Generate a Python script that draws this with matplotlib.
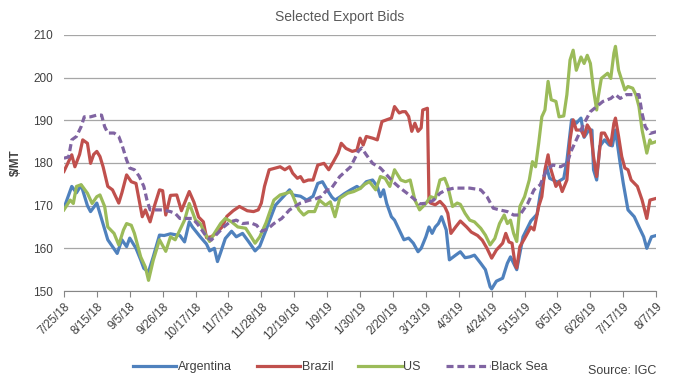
import matplotlib
matplotlib.use("Agg")
import matplotlib.pyplot as plt
import matplotlib.dates as mdates
import pandas as pd

plt.rcParams['font.family'] = ['Liberation Sans Narrow', 'Liberation Sans', 'DejaVu Sans']

## days since 7/25/18 and bids ($/MT)
arg_days = [0, 5, 8, 11, 15, 17, 21, 28, 34, 37, 40, 42, 46, 49, 51, 54, 57, 61, 64, 68, 74, 77, 80, 82, 87, 91,
            93, 96, 98, 100, 103, 107, 110, 114, 118, 122, 125, 129, 133, 135, 138, 144, 146, 151, 155, 159, 162,
            165, 168, 171, 173, 176, 179, 183, 187, 189, 193, 197, 200, 202, 204, 206, 209, 211, 214, 217, 220,
            223, 226, 228, 231, 233, 235, 237, 239, 241, 244, 246, 250, 253, 256, 259, 262, 266, 269, 272, 273,
            276, 280, 283, 285, 289, 293, 298, 302, 304, 308, 310, 315, 319, 321, 324, 327, 330, 332, 335, 337,
            338, 340, 342, 345, 348, 350, 352, 355, 357, 360, 364, 367, 370, 372, 375, 378]
arg_vals = [169.4, 174.5, 173, 174.8, 170, 168.6, 170.6, 162, 158.8, 162, 160.4, 162.4, 160, 157.3, 155.3, 154.5,
            158, 163.1, 163, 163.4, 163, 161.5, 166.2, 165, 162.7, 161, 159.4, 160, 156.9, 159, 162.3, 164, 162.7,
            163.5, 161.5, 159.4, 160.5, 164.3, 168.2, 170.1, 171.3, 173.7, 172.5, 172.2, 171.3, 172.2, 175.2,
            175.6, 173.7, 172, 171.3, 172, 172.8, 173.7, 174.5, 174, 175.6, 176, 174.5, 172.1, 173.7, 170.5, 167.4,
            166.6, 164.3, 162, 162.4, 161.2, 159.2, 160, 162.7, 165, 163.5, 165, 165.8, 167.4, 164.3, 157.3, 158.4,
            159.2, 157.8, 158, 158.4, 156.5, 155, 151, 150.5, 152.3, 153, 156.5, 158, 155, 162.7, 166.4, 168,
            172.7, 179.1, 176.4, 175.5, 176.4, 180.5, 190.1, 189.3, 190.5, 186, 187.7, 187.7, 178.4, 176, 183.9,
            185.4, 184.2, 184, 187.7, 179.9, 175.2, 169, 167.4, 165, 162.7, 160, 162.7, 163]

bra_days = [0, 5, 7, 10, 12, 15, 17, 19, 21, 23, 25, 28, 31, 35, 37, 40, 43, 46, 50, 52, 55, 58, 61, 63, 65, 68,
            72, 75, 80, 83, 86, 89, 91, 94, 97, 101, 104, 108, 112, 117, 121, 124, 126, 128, 131, 135, 138, 141,
            144, 146, 149, 151, 153, 156, 159, 162, 166, 169, 172, 175, 177, 180, 184, 187, 189, 191, 193, 197,
            200, 203, 206, 209, 211, 214, 216, 218, 220, 222, 224, 226, 228, 229, 232, 233, 234, 237, 240, 243,
            245, 247, 250, 253, 257, 260, 264, 267, 270, 273, 276, 280, 282, 284, 286, 288, 289, 291, 294, 298,
            300, 303, 305, 307, 309, 310, 314, 316, 318, 321, 323, 325, 327, 330, 332, 334, 336, 338, 340, 341,
            343, 345, 349, 351, 352, 354, 356, 358, 360, 362, 366, 369, 372, 374, 378]
bra_vals = [178, 181.9, 179.1, 182, 185.4, 184.6, 179.9, 182, 182.7, 181.5, 179.1, 174.5, 173.7, 170.6, 173,
            177.2, 175.6, 175.2, 167.4, 169, 166.2, 170.2, 173.7, 173.5, 167.8, 172.4, 172.5, 168.8, 173.3, 170.8,
            167.3, 166.2, 162.5, 162.7, 163.5, 165, 167.5, 168.8, 169.8, 168.8, 168.6, 169, 170.6, 174.5, 178.4,
            178.8, 179.1, 178.4, 179.1, 177.6, 176.4, 176.8, 175.6, 176, 176, 179.5, 179.9, 178.4, 180.3, 182.3,
            184.6, 183.4, 182.7, 183, 185.8, 184.2, 186.2, 185.8, 185.4, 189.7, 190.1, 190.5, 193.2, 191.7, 192,
            192, 190.9, 187.4, 189.3, 187.4, 188.2, 192.4, 192.8, 171, 170.6, 170.2, 171, 169.8, 168.2, 163.5,
            165, 166.4, 165, 163.8, 163, 161.9, 160, 157.7, 159.6, 161.2, 163.5, 161.5, 161.2, 156.1, 155.4,
            160.4, 162.3, 165, 164.3, 169.8, 172.1, 178.4, 181.9, 179.5, 174.5, 175.6, 173.3, 176, 185.4, 190.1,
            187.7, 187.7, 186.2, 188.9, 187.7, 181.5, 176.8, 180, 187, 187, 184.2, 189.3, 190.5, 186.2, 181.5,
            178.8, 178.4, 176, 174.5, 171.3, 167, 171.3, 171.7]

us_days = [0, 4, 6, 8, 11, 15, 18, 21, 23, 26, 28, 32, 35, 38, 40, 43, 45, 49, 52, 54, 57, 61, 65, 68, 71, 74,
           77, 80, 84, 87, 90, 93, 96, 100, 103, 107, 111, 116, 119, 122, 125, 129, 134, 138, 142, 145, 148, 150,
           153, 156, 160, 163, 167, 170, 173, 176, 181, 185, 189, 192, 195, 199, 202, 205, 208, 211, 215, 218,
           221, 224, 227, 231, 234, 237, 240, 243, 245, 248, 251, 253, 256, 259, 262, 266, 269, 272, 275, 278,
           281, 283, 285, 287, 289, 291, 294, 297, 299, 301, 303, 305, 307, 309, 311, 314, 316, 319, 321, 323,
           325, 327, 330, 332, 334, 336, 338, 340, 341, 343, 347, 349, 351, 352, 354, 356, 358, 360, 363, 365,
           367, 369, 372, 374, 375, 378]
us_vals = [169, 171.3, 170.5, 174.5, 174.9, 172.9, 170.5, 172.1, 172.5, 169.8, 165, 163.5, 160.8, 164.3, 165.8,
           165.4, 163.5, 158, 155.6, 152.5, 157.2, 162, 159.3, 162.7, 162, 164.3, 166.6, 170.5, 166.6, 165.8,
           163.5, 161.6, 163.5, 165.8, 167, 166.2, 165, 164.7, 163, 161.2, 162.7, 166, 171.3, 172.5, 172.9, 173.3,
           170.6, 169, 167.8, 168.6, 168.6, 171.3, 170.1, 170.9, 167.4, 171.7, 172.9, 173.3, 174, 175, 175.6,
           173.7, 176.8, 176.4, 174.5, 178.4, 176, 175.6, 176, 171.3, 169, 170.5, 172.1, 171.7, 176, 176.4, 174.5,
           169.8, 170.6, 170.3, 168.2, 166.6, 166.2, 164.7, 163.1, 160.8, 162.3, 165.8, 167.8, 165.8, 166.6, 163.5,
           161.6, 169.8, 172.1, 176, 180.3, 179.1, 184.6, 190.8, 192.4, 199.1, 194.8, 194.4, 190.8, 191, 196,
           204.1, 206.4, 201.7, 204.8, 203.3, 205.2, 203.3, 197.1, 192.4, 195.5, 199.8, 201, 199.8, 205.7, 207.3,
           201.7, 199.4, 197.1, 197.9, 197.5, 196, 193.2, 187.7, 182.3, 185.4, 184.6, 185]

bs_days = [0, 3, 5, 8, 11, 13, 17, 21, 24, 26, 28, 32, 35, 37, 40, 42, 45, 48, 51, 53, 55, 59, 63, 68, 71, 74,
           77, 82, 85, 88, 91, 94, 97, 102, 106, 110, 114, 119, 123, 126, 130, 134, 139, 142, 144, 151, 157, 160,
           164, 168, 170, 176, 183, 188, 190, 193, 197, 202, 206, 210, 214, 219, 223, 227, 232, 236, 240, 244,
           249, 253, 259, 266, 270, 274, 278, 283, 287, 291, 296, 300, 304, 308, 312, 317, 321, 324, 327, 332,
           336, 340, 344, 349, 352, 355, 359, 364, 367, 369, 371, 374, 378]
bs_vals = [181.1, 181.4, 185.4, 186.2, 188.5, 190.8, 190.8, 191.2, 191.2, 188.5, 187, 187, 186.2, 184.3, 180.7,
           178.8, 178.4, 176.9, 174.5, 171.3, 169, 169, 169, 168.6, 168.2, 167, 167, 167, 165.8, 164.3, 162.7,
           161.9, 163.1, 165, 166.2, 166.6, 165.8, 166, 165.4, 164, 164.5, 165.8, 167, 168.2, 169, 170.6, 171.3,
           171.5, 172.1, 173.7, 173.7, 176.8, 179.1, 182.8, 183.5, 181.9, 179.9, 178.8, 177.2, 175.6, 174.3,
           172.9, 171.7, 170.4, 170.6, 171.3, 172.9, 173.7, 174.1, 174.1, 174.1, 173.7, 172.1, 169.4, 169, 168.6,
           167.8, 167.8, 170.5, 173.7, 174.9, 178.4, 179.5, 179.1, 179.9, 183, 185.4, 189.3, 192, 193.2, 194.4,
           195.1, 196, 195.1, 196, 196, 196, 191.6, 188.5, 186.9, 187.3]

start = pd.Timestamp("2018-07-25")
def to_dates(days):
  return [start + pd.Timedelta(days=d) for d in days]

fig = plt.figure(figsize=(6.8, 3.87), dpi=100)
ax = fig.add_axes([0.094, 0.248, 0.871, 0.662])

ax.plot(to_dates(arg_days), arg_vals, color="#4F81BD", lw=2.3, label="Argentina")
ax.plot(to_dates(bra_days), bra_vals, color="#C0504D", lw=2.3, label="Brazil")
ax.plot(to_dates(us_days), us_vals, color="#9BBB59", lw=2.3, label="US")
ax.plot(to_dates(bs_days), bs_vals, color="#8064A2", lw=2.3, ls=(0, (2.2, 1.2)), label="Black Sea")

## axes look
ax.set_ylim(150, 210)
ax.set_yticks(range(150, 211, 10))
ax.set_xlim(start, pd.Timestamp("2019-08-07"))
ticks = pd.date_range("2018-07-25", "2019-08-07", freq="21D")
ax.set_xticks(ticks)
ax.set_xticklabels([f"{t.month}/{t.day}/{t.year % 100}" for t in ticks], rotation=45, ha="right",
                   rotation_mode="anchor", fontsize=8.5, color="#404040")
ax.tick_params(axis="y", length=0, labelsize=8.5, labelcolor="#404040", pad=8)
ax.tick_params(axis="x", length=4, color="#868686", pad=3)
ax.grid(axis="y", color="#A6A6A6", lw=0.9)
ax.set_axisbelow(True)
for s in ["left", "right", "top"]:
  ax.spines[s].set_visible(False)
ax.spines["bottom"].set_color("#868686")

ax.set_ylabel("$/MT", fontsize=8.5, fontweight="bold", color="#404040", labelpad=8)
fig.text(0.5, 0.975, "Selected Export Bids", ha="center", va="top", fontsize=10, color="#595959")

fig.legend(loc="center", bbox_to_anchor=(0.5, 0.052), ncol=4, frameon=False, fontsize=9,
           handlelength=3.5, handletextpad=0.1, columnspacing=2.0, labelcolor="#404040")
fig.text(0.965, 0.025, "Source: IGC", ha="right", va="bottom", fontsize=9, color="#404040")

fig.savefig("out.png", dpi=100)
